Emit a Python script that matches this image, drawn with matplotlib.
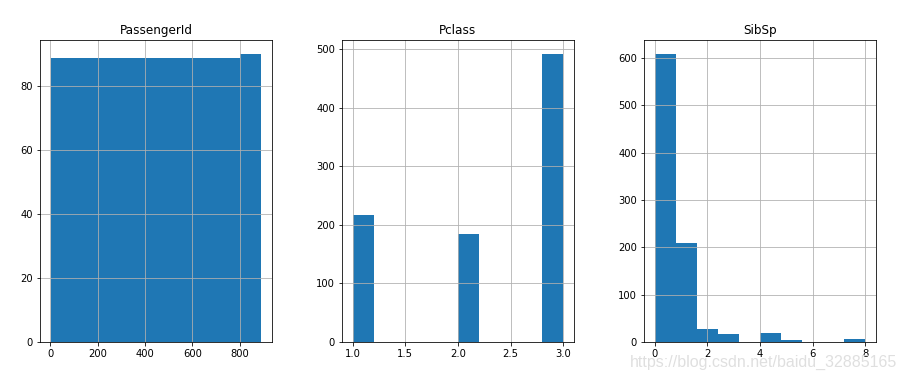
import numpy as np
import matplotlib
matplotlib.use('Agg')
import matplotlib.pyplot as plt

# Titanic columns, stored as value -> count
passenger_bin_counts = [89, 89, 89, 89, 89, 89, 89, 89, 89, 90]
passenger_range = (1, 891)

pclass_values = [1, 2, 3]
pclass_counts = [216, 184, 491]

sibsp_values = [0, 1, 2, 3, 4, 5, 8]
sibsp_counts = [608, 209, 28, 16, 18, 5, 7]

fig = plt.figure(figsize=(907 / 72, 382 / 72), dpi=72)

w, h, b = 232 / 907, 302 / 382, 40 / 382
lefts = [40 / 907, 342 / 907, 644 / 907]
axes = [fig.add_axes([l, b, w, h]) for l in lefts]

# PassengerId: bin centers weighted by bin counts
edges = np.linspace(passenger_range[0], passenger_range[1], len(passenger_bin_counts) + 1)
centers = (edges[:-1] + edges[1:]) / 2
axes[0].hist(centers, bins=edges, weights=passenger_bin_counts, color='#1f77b4')
axes[0].set_title('PassengerId', fontsize=12)

axes[1].hist(pclass_values, bins=10, weights=pclass_counts, color='#1f77b4')
axes[1].set_title('Pclass', fontsize=12)

axes[2].hist(sibsp_values, bins=10, weights=sibsp_counts, color='#1f77b4')
axes[2].set_title('SibSp', fontsize=12)

for ax in axes:
    ax.grid(True, color='#b0b0b0', linewidth=0.8)
    ax.tick_params(labelsize=10)

# watermark (sits over the SibSp tick labels, as in the source image)
fig.text(897 / 907, 0.05, 'https://blog.csdn.net/baidu_32885165', ha='right', va='center',
         fontsize=16, family='Liberation Sans', color='#dcdcdc', alpha=0.9)

fig.savefig('out.png', dpi=72)
